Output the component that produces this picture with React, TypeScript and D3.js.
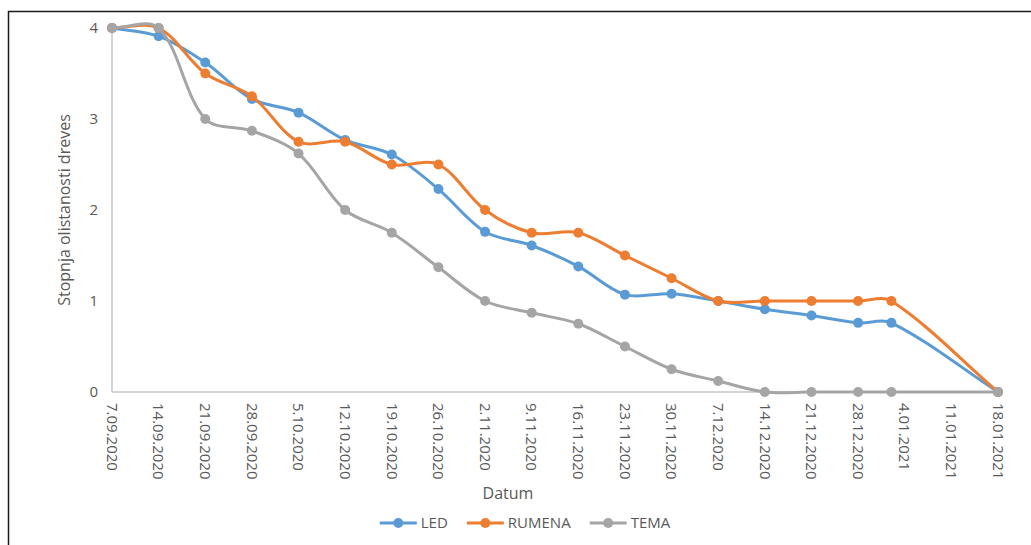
import React, { useRef, useEffect } from 'react';
import * as d3 from 'd3';

// measurement dates (2.01.2021 is off the weekly grid)
const dates = [
  '7.09.2020', '14.09.2020', '21.09.2020', '28.09.2020', '5.10.2020', '12.10.2020',
  '19.10.2020', '26.10.2020', '2.11.2020', '9.11.2020', '16.11.2020', '23.11.2020',
  '30.11.2020', '7.12.2020', '14.12.2020', '21.12.2020', '28.12.2020', '2.01.2021',
  '18.01.2021',
];
const led = [4, 3.91, 3.62, 3.22, 3.07, 2.77, 2.61, 2.23, 1.76, 1.61, 1.38, 1.07, 1.08, 1.0, 0.91, 0.84, 0.76, 0.76, 0];
const rumena = [4, 4, 3.5, 3.25, 2.75, 2.75, 2.5, 2.5, 2.0, 1.75, 1.75, 1.5, 1.25, 1.0, 1, 1, 1, 1, 0];
const tema = [4, 4, 3.0, 2.87, 2.62, 2.0, 1.75, 1.37, 1.0, 0.87, 0.75, 0.5, 0.25, 0.12, 0, 0, 0, 0, 0];

const seriesNames = ['LED', 'RUMENA', 'TEMA'];
const seriesColors = ['#5B9BD5', '#ED7D31', '#A5A5A5'];

const xTickLabels = [
  '7.09.2020', '14.09.2020', '21.09.2020', '28.09.2020', '5.10.2020', '12.10.2020',
  '19.10.2020', '26.10.2020', '2.11.2020', '9.11.2020', '16.11.2020', '23.11.2020',
  '30.11.2020', '7.12.2020', '14.12.2020', '21.12.2020', '28.12.2020', '4.01.2021',
  '11.01.2021', '18.01.2021',
];
const yTicks = [0, 1, 2, 3, 4];

const FONT = "'Open Sans', 'Liberation Sans', sans-serif";
const TEXT = '#595959';

// Excel-like smoothing: Catmull-Rom tangents split by neighbouring segment lengths
const curveExcelSmooth = (context: any) => {
  let pts: [number, number][] = [];
  return {
    areaStart() {},
    areaEnd() {},
    lineStart() { pts = []; },
    point(x: number, y: number) { pts.push([x, y]); },
    lineEnd() {
      const n = pts.length;
      if (!n) return;
      context.moveTo(pts[0][0], pts[0][1]);
      if (n === 1) return;
      const outT: [number, number][] = [];
      const inT: [number, number][] = [];
      for (let i = 0; i < n; i++) {
        if (i === 0 || i === n - 1) {
          const a = pts[i === 0 ? 0 : n - 2], b = pts[i === 0 ? 1 : n - 1];
          const t: [number, number] = [(b[0] - a[0]) / 3, (b[1] - a[1]) / 3];
          outT.push(t); inT.push(t);
          continue;
        }
        const p0 = pts[i - 1], p1 = pts[i], p2 = pts[i + 1];
        const dl = Math.hypot(p1[0] - p0[0], p1[1] - p0[1]);
        const dr = Math.hypot(p2[0] - p1[0], p2[1] - p1[1]);
        const tx = (p2[0] - p0[0]) / 3, ty = (p2[1] - p0[1]) / 3;
        const s = dl + dr || 1;
        outT.push([tx * dr / s, ty * dr / s]);
        inT.push([tx * dl / s, ty * dl / s]);
      }
      for (let i = 0; i < n - 1; i++) {
        const a = pts[i], b = pts[i + 1];
        context.bezierCurveTo(
          a[0] + outT[i][0], a[1] + outT[i][1],
          b[0] - inT[i + 1][0], b[1] - inT[i + 1][1],
          b[0], b[1]
        );
      }
    },
  };
};

const App = () => {
  const svgRef = useRef<SVGSVGElement>(null);

  useEffect(() => {
    const width = 1031;
    const height = 545;
    const left = 112, right = 998, top = 28, bottom = 392;
    const parse = d3.utcParse('%d.%m.%Y');

    const svg = d3.select(svgRef.current);
    svg.selectAll('*').remove();
    svg.attr('width', width).attr('height', height);

    // outer frame (runs past the picture edge on the right/bottom)
    svg.append('rect')
      .attr('x', 8.5).attr('y', 11.5)
      .attr('width', 1040).attr('height', 560)
      .attr('fill', '#fff')
      .attr('stroke', '#1a1a1a')
      .attr('stroke-width', 1.5);

    const x = d3.scaleUtc()
      .domain([parse(xTickLabels[0]) as Date, parse(xTickLabels[xTickLabels.length - 1]) as Date])
      .range([left, right]);
    const y = d3.scaleLinear().domain([0, 4]).range([bottom, top]);

    // axis lines
    svg.append('line')
      .attr('x1', left).attr('x2', left)
      .attr('y1', y(4)).attr('y2', y(0))
      .attr('stroke', '#c6c6c6').attr('stroke-width', 1.5);
    svg.append('line')
      .attr('x1', left).attr('x2', right)
      .attr('y1', y(0)).attr('y2', y(0))
      .attr('stroke', '#c6c6c6').attr('stroke-width', 1.5);

    // y ticks
    svg.append('g')
      .selectAll('text')
      .data(yTicks)
      .enter()
      .append('text')
        .attr('x', 98)
        .attr('y', d => y(d))
        .attr('dy', '0.35em')
        .attr('text-anchor', 'end')
        .attr('font-family', FONT)
        .attr('font-size', 15)
        .attr('fill', TEXT)
        .text(d => d);

    // x ticks, rotated
    svg.append('g')
      .selectAll('text')
      .data(xTickLabels)
      .enter()
      .append('text')
        .attr('transform', d => 'translate(' + x(parse(d) as Date) + ',403) rotate(90)')
        .attr('dy', '0.35em')
        .attr('text-anchor', 'start')
        .attr('font-family', FONT)
        .attr('font-size', 15)
        .attr('fill', TEXT)
        .text(d => d);

    // axis titles
    svg.append('text')
      .attr('x', 508).attr('y', 499)
      .attr('text-anchor', 'middle')
      .attr('font-family', FONT).attr('font-size', 16)
      .attr('fill', TEXT)
      .text('Datum');
    svg.append('text')
      .attr('transform', 'translate(64,' + (top + bottom) / 2 + ') rotate(-90)')
      .attr('dy', '0.35em')
      .attr('text-anchor', 'middle')
      .attr('font-family', FONT).attr('font-size', 16)
      .attr('fill', TEXT)
      .text('Stopnja olistanosti dreves');

    // series
    const allSeries = [led, rumena, tema];
    const line = d3.line<number>()
      .x((d, i) => x(parse(dates[i]) as Date))
      .y(d => y(d))
      .curve(curveExcelSmooth as any);

    allSeries.forEach((values, s) => {
      const g = svg.append('g');
      g.append('path')
        .attr('d', line(values))
        .attr('fill', 'none')
        .attr('stroke', seriesColors[s])
        .attr('stroke-width', 3)
        .attr('stroke-linejoin', 'round');
      g.selectAll('circle')
        .data(values)
        .enter()
        .append('circle')
          .attr('cx', (d, i) => x(parse(dates[i]) as Date))
          .attr('cy', d => y(d))
          .attr('r', 5)
          .attr('fill', seriesColors[s]);
    });

    // legend, centred under the plot
    const legend = svg.append('g');
    let cursor = 0;
    seriesNames.forEach((name, s) => {
      const item = legend.append('g').attr('transform', 'translate(' + cursor + ',0)');
      item.append('line')
        .attr('x1', 0).attr('x2', 37)
        .attr('y1', 0).attr('y2', 0)
        .attr('stroke', seriesColors[s]).attr('stroke-width', 3);
      item.append('circle')
        .attr('cx', 18.5).attr('cy', 0).attr('r', 5)
        .attr('fill', seriesColors[s]);
      const t = item.append('text')
        .attr('x', 41)
        .attr('dy', '0.35em')
        .attr('font-family', FONT).attr('font-size', 15)
        .attr('fill', TEXT)
        .text(name);
      const w = (t.node() as SVGTextElement).getComputedTextLength();
      cursor += 41 + w + 19;
    });
    const legendWidth = cursor - 19;
    legend.attr('transform', 'translate(' + (525 - legendWidth / 2) + ',523)');
  }, []);

  return (
    <svg ref={svgRef} style={{ position: 'absolute', left: 0, top: 0, background: '#fff' }}></svg>
  );
};

export default App;
